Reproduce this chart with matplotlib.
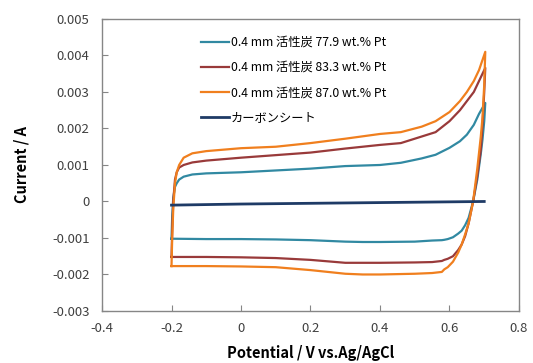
"""
Cyclic voltammograms: activated-carbon Pt electrodes vs carbon sheet.
"""

import numpy as np
import matplotlib.pyplot as plt

plt.rcParams['font.family'] = ['Noto Sans CJK JP', 'DejaVu Sans']

# --- data ---
labels = ['0.4 mm 活性炭 77.9 wt.% Pt',
          '0.4 mm 活性炭 83.3 wt.% Pt',
          '0.4 mm 活性炭 87.0 wt.% Pt',
          'カーボンシート']
colors = ['#3189a2', '#993a3a', '#f07f1e', '#1f3b66']

# anodic sweep (-0.2 -> 0.7 V)
up_x = [-0.2, -0.198, -0.195, -0.19, -0.185, -0.178, -0.165, -0.14, -0.1, 0.0,
        0.1, 0.2, 0.3, 0.4, 0.46, 0.52, 0.56, 0.6, 0.63, 0.65, 0.67, 0.685, 0.703]
up_779 = [-0.00102, -0.0004, 0.0001, 0.0004, 0.0005, 0.0006, 0.00068, 0.00074,
          0.00077, 0.0008, 0.00085, 0.0009, 0.00097, 0.001, 0.00106, 0.00118,
          0.00128, 0.00147, 0.00165, 0.00183, 0.0021, 0.0024, 0.0027]
up_833 = [-0.00152, -0.0008, 0.0, 0.0006, 0.0008, 0.00093, 0.001, 0.00107,
          0.00112, 0.0012, 0.00127, 0.00134, 0.00145, 0.00155, 0.0016, 0.00178,
          0.0019, 0.0022, 0.0025, 0.00275, 0.003, 0.0033, 0.00366]
up_870 = [-0.00177, -0.001, -0.0002, 0.0005, 0.0008, 0.001, 0.0012, 0.00132,
          0.00138, 0.00146, 0.0015, 0.0016, 0.00172, 0.00185, 0.0019, 0.00205,
          0.0022, 0.00245, 0.00275, 0.003, 0.0033, 0.0036, 0.0041]

# cathodic sweep (0.7 -> -0.2 V)
dn_x = [0.703, 0.7, 0.695, 0.69, 0.68, 0.668, 0.655, 0.645, 0.635, 0.625, 0.61,
        0.595, 0.585, 0.578, 0.55, 0.5, 0.4, 0.35, 0.3, 0.2, 0.1, 0.0, -0.1, -0.2]
dn_779 = [0.0027, 0.0022, 0.0017, 0.0013, 0.0006, 0.0, -0.00045, -0.00065,
          -0.0008, -0.00088, -0.00098, -0.00103, -0.00105, -0.00106, -0.00107,
          -0.0011, -0.00111, -0.00111, -0.0011, -0.00106, -0.00104, -0.00103,
          -0.00103, -0.00102]
dn_833 = [0.00366, 0.003, 0.0021, 0.0014, 0.0007, 0.0, -0.0006, -0.00095,
          -0.00118, -0.00133, -0.0015, -0.00157, -0.0016, -0.00163, -0.00166,
          -0.00167, -0.00168, -0.00168, -0.00168, -0.0016, -0.00155, -0.00153,
          -0.00152, -0.00152]
dn_870 = [0.0041, 0.0032, 0.0023, 0.00177, 0.0009, 0.0, -0.0006, -0.0009,
          -0.00118, -0.0014, -0.00165, -0.0018, -0.00186, -0.00193, -0.00196,
          -0.00198, -0.002, -0.002, -0.00198, -0.00188, -0.0018, -0.00178,
          -0.00177, -0.00177]

carbon_x = [-0.2, 0.0, 0.2, 0.4, 0.6, 0.7]
carbon_y = [-0.0001, -0.00007, -0.00005, -0.00003, -0.00001, 0.0]

fig = plt.figure(figsize=(5.33, 3.63), dpi=100)
ax = fig.add_axes([0.1914, 0.1433, 0.7823, 0.8044])

series = [(up_779, dn_779), (up_833, dn_833), (up_870, dn_870)]
for (u, d), c, lab in zip(series, colors[:3], labels[:3]):
    ax.plot(up_x + dn_x, u + d, color=c, lw=1.6, label=lab)
ax.plot(carbon_x, carbon_y, color=colors[3], lw=2.0, label=labels[3])

ax.set_xlim(-0.4, 0.8)
ax.set_ylim(-0.003, 0.005)
ax.set_xticks(np.arange(-0.4, 0.81, 0.2))
ax.set_yticks(np.arange(-0.003, 0.0051, 0.001))
ax.set_xticklabels(['-0.4', '-0.2', '0', '0.2', '0.4', '0.6', '0.8'])
ax.set_yticklabels(['-0.003', '-0.002', '-0.001', '0', '0.001', '0.002',
                    '0.003', '0.004', '0.005'])
ax.tick_params(direction='in', length=4, color='#868686', labelsize=9.5,
               labelcolor='#404040')
ax.tick_params(axis='y', pad=9)
ax.tick_params(axis='x', pad=8)
for s in ax.spines.values():
    s.set_color('#868686')
    s.set_linewidth(1.0)

ax.set_xlabel('Potential / V vs.Ag/AgCl', fontsize=10.5, weight='bold', labelpad=7)
ax.set_ylabel('Current / A', fontsize=10.5, weight='bold', labelpad=16)

ax.legend(loc='upper left', bbox_to_anchor=(0.21, 0.98), frameon=False,
          fontsize=8.8, handlelength=2.3, handletextpad=0.15, labelspacing=1.0)

plt.savefig('out.png', dpi=100)
